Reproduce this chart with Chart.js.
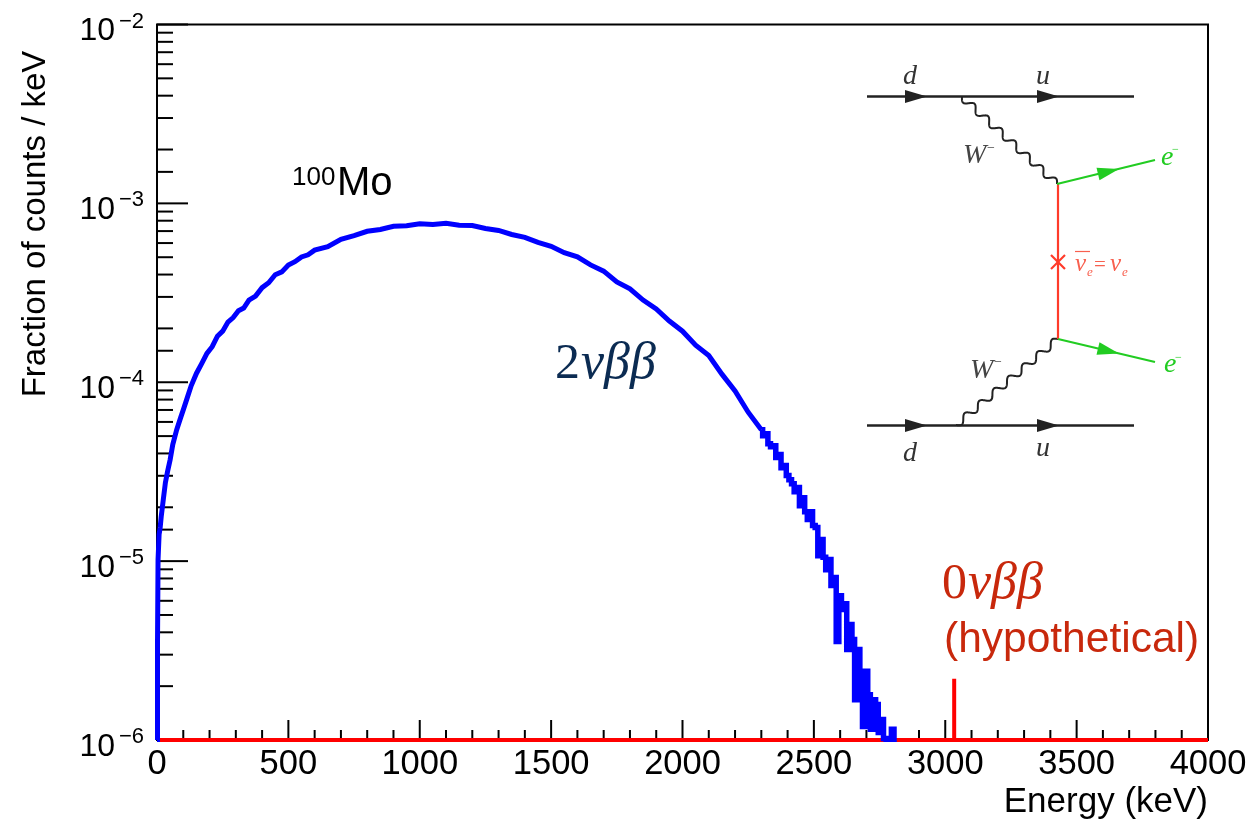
<!DOCTYPE html>
<html>
<head>
<meta charset="utf-8">
<title>100Mo spectrum</title>
<script src="https://cdn.jsdelivr.net/npm/chart.js@4"></script>
<style>
    html, body { margin: 0; padding: 0; background: #fff; }
    canvas { display: block; }
</style>
</head>
<body>
<canvas id="myChart" width="1249" height="819"></canvas>
<script>
// values
const mainEnergy = [0, 2, 4, 8, 12, 16, 24, 32, 40, 50, 60, 75, 90, 100, 115, 130, 150, 170, 190, 210, 230, 250, 270, 290, 310, 330, 350, 375, 400, 425, 450, 475, 500, 525, 550, 575, 600, 650, 700, 750, 800, 850, 900, 950, 1000, 1050, 1100, 1150, 1200, 1250, 1300, 1350, 1400, 1450, 1500, 1550, 1600, 1650, 1700, 1750, 1800, 1850, 1900, 1950, 2000, 2050, 2100, 2150, 2200, 2250, 2300];
const mainValues = [1e-6, 3.64e-6, 1.02e-5, 1.41e-5, 1.54e-5, 1.77e-5, 2.21e-5, 2.75e-5, 3.16e-5, 3.69e-5, 4.48e-5, 5.43e-5, 6.34e-5, 7.01e-5, 8.18e-5, 9.55e-5, 1.12e-4, 1.27e-4, 1.45e-4, 1.58e-4, 1.81e-4, 1.93e-4, 2.17e-4, 2.3e-4, 2.51e-4, 2.6e-4, 2.88e-4, 3.03e-4, 3.38e-4, 3.6e-4, 3.99e-4, 4.14e-4, 4.52e-4, 4.72e-4, 5.02e-4, 5.16e-4, 5.48e-4, 5.72e-4, 6.3e-4, 6.6e-4, 6.98e-4, 7.15e-4, 7.44e-4, 7.5e-4, 7.7e-4, 7.62e-4, 7.73e-4, 7.55e-4, 7.52e-4, 7.24e-4, 7.06e-4, 6.7e-4, 6.46e-4, 6.05e-4, 5.76e-4, 5.3e-4, 5.02e-4, 4.53e-4, 4.18e-4, 3.64e-4, 3.33e-4, 2.88e-4, 2.57e-4, 2.2e-4, 1.93e-4, 1.61e-4, 1.41e-4, 1.11e-4, 8.95e-5, 6.8e-5, 5.43e-5];

const tailEnergy = [2300, 2310, 2320, 2330, 2340, 2350, 2360, 2370, 2380, 2390, 2400, 2410, 2420, 2430, 2440, 2450, 2460, 2470, 2480, 2490, 2500, 2510, 2520, 2530, 2540, 2550, 2560, 2570, 2580, 2590, 2600, 2610, 2620, 2630, 2640, 2650, 2660, 2670, 2680, 2690, 2700, 2710, 2720, 2730, 2740, 2750, 2760, 2770, 2780, 2790, 2800, 2810];
const tailValues = [5.43e-5, 5.02e-5, 5.15e-5, 4.53e-5, 4.36e-5, 4.42e-5, 3.79e-5, 3.94e-5, 3.33e-5, 3.42e-5, 3.01e-5, 2.85e-5, 2.71e-5, 2.44e-5, 2.58e-5, 2.04e-5, 2.26e-5, 1.89e-5, 1.71e-5, 1.89e-5, 1.58e-5, 1.54e-5, 1.07e-5, 1.32e-5, 1.05e-5, 8.96e-6, 1.02e-5, 7.3e-6, 8.09e-6, 3.55e-6, 6.41e-6, 5.36e-6, 5.78e-6, 3.21e-6, 4.42e-6, 3.65e-6, 1.68e-6, 3.21e-6, 2.42e-6, 1.19e-6, 2.42e-6, 1.79e-6, 1.15e-6, 1.68e-6, 1.58e-6, 1.1e-6, 1.3e-6, 1.02e-6, 8e-7, 8e-7, 1.15e-6, 8e-7];

const peakEnergy = [0, 3034, 3034, 3034, 4000];
const peakValues = [1e-6, 1e-6, 2.2e-6, 1e-6, 1e-6];

const xLabels = [0, 500, 1000, 1500, 2000, 2500, 3000, 3500, 4000];

const sans = '"Liberation Sans"';
const serif = '"Liberation Serif"';

function toPoints(xs, ys) {
    return xs.map((x, i) => ({ x: x, y: ys[i] }));
}

function line(ctx, x1, y1, x2, y2) {
    ctx.beginPath();
    ctx.moveTo(x1, y1);
    ctx.lineTo(x2, y2);
    ctx.stroke();
}

function text(ctx, str, x, y, font, color, align) {
    ctx.font = font;
    ctx.fillStyle = color;
    ctx.textAlign = align || 'left';
    ctx.textBaseline = 'alphabetic';
    ctx.fillText(str, x, y);
}

function arrow(ctx, x1, y1, x2, y2, halfWidth) {
    const dx = x2 - x1, dy = y2 - y1, len = Math.hypot(dx, dy);
    const nx = -dy / len * halfWidth, ny = dx / len * halfWidth;
    ctx.beginPath();
    ctx.moveTo(x2, y2);
    ctx.lineTo(x1 + nx, y1 + ny);
    ctx.lineTo(x1 - nx, y1 - ny);
    ctx.closePath();
    ctx.fill();
}

function wave(ctx, x1, y1, x2, y2, cycles, amp) {
    const dx = x2 - x1, dy = y2 - y1, len = Math.hypot(dx, dy);
    const nx = -dy / len, ny = dx / len;
    ctx.beginPath();
    for (let i = 0; i <= 300; i++) {
        const t = i / 300;
        const off = Math.sin(t * cycles * 2 * Math.PI) * amp;
        const px = x1 + dx * t + nx * off;
        const py = y1 + dy * t + ny * off;
        if (i === 0) ctx.moveTo(px, py); else ctx.lineTo(px, py);
    }
    ctx.stroke();
}

function drawDiagram(ctx) {
    const black = '#222222', green = '#22cc22', red = '#ff3b2a';
    ctx.save();
    ctx.lineWidth = 2.4;
    ctx.strokeStyle = black;
    ctx.fillStyle = black;
    line(ctx, 867, 96.5, 1134, 96.5);
    line(ctx, 867, 425.5, 1134, 425.5);
    arrow(ctx, 905, 96.5, 927, 96.5, 6.5);
    arrow(ctx, 1037, 96.5, 1059, 96.5, 6.5);
    arrow(ctx, 905, 425.5, 927, 425.5, 6.5);
    arrow(ctx, 1037, 425.5, 1059, 425.5, 6.5);

    ctx.lineWidth = 2;
    wave(ctx, 962, 97, 1057, 184, 7, 3.5);
    wave(ctx, 956, 425, 1058, 339, 7, 3.5);

    ctx.lineWidth = 2.2;
    ctx.strokeStyle = red;
    line(ctx, 1058, 184, 1058, 339);
    line(ctx, 1051, 255, 1065, 269);
    line(ctx, 1065, 255, 1051, 269);

    ctx.strokeStyle = green;
    ctx.fillStyle = green;
    line(ctx, 1057, 184, 1155, 160);
    line(ctx, 1058, 339, 1155, 362);
    arrow(ctx, 1098, 174, 1119, 169, 6.5);
    arrow(ctx, 1098, 348.5, 1119, 353.5, 6.5);

    const it = 'italic 28px ' + serif;
    text(ctx, 'd', 903, 84, it, '#333');
    text(ctx, 'u', 1036, 84, it, '#333');
    text(ctx, 'd', 903, 461, it, '#333');
    text(ctx, 'u', 1036, 456, it, '#333');
    text(ctx, 'W', 963, 163, it, '#444');
    text(ctx, '\u2212', 987, 152, '14px ' + serif, '#444');
    text(ctx, 'W', 970, 378, it, '#444');
    text(ctx, '\u2212', 994, 366, '14px ' + serif, '#444');
    text(ctx, 'e', 1161, 165, it, green);
    text(ctx, '\u2212', 1172, 153, '12px ' + serif, green);
    text(ctx, 'e', 1164, 372, it, green);
    text(ctx, '\u2212', 1175, 361, '12px ' + serif, green);

    const salmon = '#f8604f';
    text(ctx, '\u03BD', 1075, 271, 'italic 25px ' + serif, salmon);
    text(ctx, 'e', 1087, 276, 'italic 13px ' + serif, salmon);
    text(ctx, '=', 1094, 271, '21px ' + serif, salmon);
    text(ctx, '\u03BD', 1110, 271, 'italic 25px ' + serif, salmon);
    text(ctx, 'e', 1122, 276, 'italic 13px ' + serif, salmon);
    ctx.strokeStyle = salmon;
    ctx.lineWidth = 1.2;
    line(ctx, 1075, 251.5, 1090, 251.5);
    ctx.restore();
}

const rootFrame = {
    id: 'rootFrame',
    beforeDatasetsDraw(chart) {
        const ctx = chart.ctx, area = chart.chartArea;
        const x = chart.scales.x, y = chart.scales.y;
        ctx.save();
        ctx.strokeStyle = '#000';
        ctx.lineWidth = 2;
        ctx.strokeRect(area.left, area.top, area.right - area.left, area.bottom - area.top);

        x.ticks.forEach(t => {
            const px = x.getPixelForValue(t.value);
            const len = t.value % 500 === 0 ? 20 : 10;
            line(ctx, px, area.bottom, px, area.bottom - len);
        });
        y.ticks.forEach(t => {
            const py = y.getPixelForValue(t.value);
            const exp = Math.log10(t.value);
            const len = Math.abs(exp - Math.round(exp)) < 1e-6 ? 31 : 16;
            line(ctx, area.left, py, area.left + len, py);
        });
        ctx.restore();
    },
    afterDraw(chart) {
        const ctx = chart.ctx;
        const y = chart.scales.y;
        ctx.save();

        // log axis labels with real superscripts
        y.ticks.forEach(t => {
            const exp = Math.log10(t.value);
            if (Math.abs(exp - Math.round(exp)) > 1e-6) return;
            const py = y.getPixelForValue(t.value);
            text(ctx, '10', 115, py + 15.5, '32px ' + sans, '#000', 'right');
            text(ctx, '\u2212' + Math.abs(Math.round(exp)), 144, py + 3, '22px ' + sans, '#000', 'right');
        });

        ctx.save();
        ctx.translate(45, 224);
        ctx.rotate(-Math.PI / 2);
        text(ctx, 'Fraction of counts / keV', 0, 0, '33px ' + sans, '#000', 'center');
        ctx.restore();

        text(ctx, '100', 292, 185, '26px ' + sans, '#000');
        text(ctx, 'Mo', 337, 195, '40px ' + sans, '#000');

        text(ctx, '2', 555, 378, '50px ' + serif, '#0b2b52');
        text(ctx, '\u03BD\u03B2\u03B2', 581, 378, 'italic 52px ' + serif, '#0b2b52');

        text(ctx, '0', 942, 598, '50px ' + serif, '#c8280c');
        text(ctx, '\u03BD\u03B2\u03B2', 968, 598, 'italic 52px ' + serif, '#c8280c');
        text(ctx, '(hypothetical)', 944, 652, '42.5px ' + sans, '#c8280c');

        drawDiagram(ctx);
        ctx.restore();
    }
};

const ctx = document.getElementById('myChart').getContext('2d');

const chart = new Chart(ctx, {
    type: 'scatter',
    plugins: [rootFrame],
    data: {
        datasets: [{
            label: '2vbb',
            data: toPoints(mainEnergy, mainValues),
            showLine: true,
            borderColor: '#0000ff',
            borderWidth: 5,
            pointRadius: 0,
            clip: { left: 3, top: 0, right: 0, bottom: 2 }
        }, {
            label: '2vbb tail',
            data: toPoints(tailEnergy, tailValues),
            showLine: true,
            stepped: 'middle',
            borderColor: '#0000ff',
            borderWidth: 5.5,
            borderJoinStyle: 'miter',
            pointRadius: 0,
            clip: { left: 3, top: 0, right: 0, bottom: 2 }
        }, {
            label: '0vbb',
            data: toPoints(peakEnergy, peakValues),
            showLine: true,
            borderColor: '#ff0000',
            borderWidth: 4,
            borderJoinStyle: 'miter',
            pointRadius: 0,
            clip: { left: 3, top: 0, right: 0, bottom: 3 }
        }]
    },
    options: {
        responsive: false,
        animation: false,
        layout: { padding: { left: 0, top: 24.5, right: 41, bottom: 0 } },
        plugins: { legend: { display: false }, tooltip: { enabled: false } },
        scales: {
            x: {
                type: 'linear',
                min: 0,
                max: 4000,
                afterFit(scale) { scale.height = 79; },
                grid: { display: false },
                border: { display: false },
                ticks: {
                    stepSize: 100,
                    autoSkip: false,
                    maxRotation: 0,
                    padding: -4,
                    color: '#000',
                    font: { family: 'Liberation Sans', size: 34.5 },
                    callback: v => xLabels.includes(v) ? String(v) : ''
                },
                title: {
                    display: true,
                    text: 'Energy (keV)',
                    align: 'end',
                    color: '#000',
                    padding: { top: 0, bottom: -4 },
                    font: { family: 'Liberation Sans', size: 35 }
                }
            },
            y: {
                type: 'logarithmic',
                min: 1e-6,
                max: 1e-2,
                afterFit(scale) { scale.width = 157; },
                grid: { display: false },
                border: { display: false },
                ticks: { display: false }
            }
        }
    }
});
</script>
</body>
</html>
